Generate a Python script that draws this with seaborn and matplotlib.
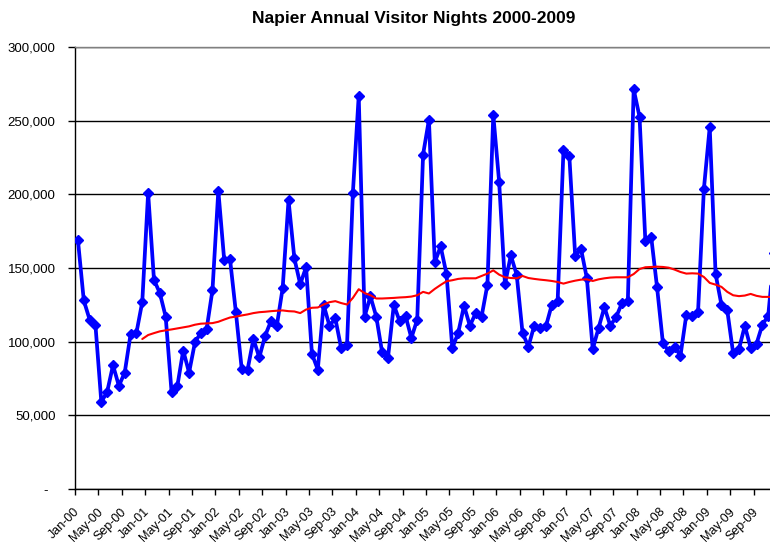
#coding = utf-8

'''
Napier Annual Visitor Nights 2000-2009 (月度数据 + 12个月移动平均)
'''

import seaborn as sns
import numpy as np
import pandas as pd
import matplotlib
matplotlib.use('Agg')
import matplotlib.pyplot as plt

#数据准备 (单位: 千)
nights_k = [
    169, 128, 115, 111, 59, 66, 84, 70, 79, 105, 106, 127,                          # 2000
    201, 142, 133, 117, 66, 70, 94, 79, 99.5, 106, 108.6, 135,                      # 2001
    202.5, 155.6, 156, 120, 81.4, 81, 101.8, 89.3, 104, 114, 110.8, 136.4,          # 2002
    196, 156.5, 139, 150.6, 91.8, 81, 125, 110.8, 115.8, 95.5, 97.7, 201,           # 2003
    267, 117, 130.7, 117, 92.7, 89, 125, 113.8, 117.6, 102.5, 115, 227,             # 2004
    250.6, 153.8, 164.7, 146, 95.7, 105.9, 124.4, 110.8, 119.4, 117, 138.7, 254,    # 2005
    208.6, 139, 158.6, 145.4, 106, 96.6, 110.8, 109.3, 110.4, 125, 127.4, 230,      # 2006
    226, 158.4, 162.9, 143, 95, 109.3, 123.5, 110.8, 116.7, 126.2, 127.4, 271.3,    # 2007
    252.7, 168, 171, 136.8, 99, 93.4, 96.4, 90.5, 118.3, 117.2, 119.9, 203.6,       # 2008
    245.7, 146, 125, 121.2, 92.3, 95, 110.8, 95.7, 98.6, 111.5, 117.6, 160,         # 2009
]

#移动平均线 (从 Dec-00 开始)
avg_start = 11
moving_avg_k = [
    101.8,                                                                          # 2000
    104.5, 105.8, 107, 107.7, 108.3, 109, 109.7, 110.4, 111.5, 112.2, 112.4, 112.6, # 2001
    113.5, 115, 116.4, 117, 117.8, 118.5, 119.4, 120, 120.3, 120.7, 121, 121.2,     # 2002
    120.7, 120.5, 119.4, 121.8, 123, 123.2, 125.2, 126.8, 127.5, 126.2, 125.2, 129.7,  # 2003
    135.6, 133, 131.5, 129.3, 129.3, 129.5, 129.7, 130, 130.2, 130.6, 131.5, 133.8, # 2004
    132.7, 135.8, 138.5, 141, 141.7, 142.6, 143, 143, 143, 144.6, 146.2, 148.4,     # 2005
    145.5, 143.7, 143.2, 143, 144.6, 143.2, 142.6, 142.1, 141.7, 141.2, 140.5, 139.4,  # 2006
    140.5, 141.4, 142.1, 142.3, 141.2, 142.3, 143, 143.5, 143.7, 143.7, 143.7, 145.9,  # 2007
    149.3, 150.5, 150.7, 150.9, 150.7, 150.2, 148.9, 147.3, 146.2, 146.4, 146.2, 143.9,  # 2008
    139.9, 138.7, 137.2, 133.8, 131.5, 130.9, 131.3, 132.4, 131.1, 130.4, 130.4, 130.0,  # 2009
]

x_labels = ['Jan-00', 'May-00', 'Sep-00', 'Jan-01', 'May-01', 'Sep-01',
            'Jan-02', 'May-02', 'Sep-02', 'Jan-03', 'May-03', 'Sep-03',
            'Jan-04', 'May-04', 'Sep-04', 'Jan-05', 'May-05', 'Sep-05',
            'Jan-06', 'May-06', 'Sep-06', 'Jan-07', 'May-07', 'Sep-07',
            'Jan-08', 'May-08', 'Sep-08', 'Jan-09', 'May-09', 'Sep-09']
y_ticks = [0, 50000, 100000, 150000, 200000, 250000, 300000]
y_labels = ['-  ', '50,000', '100,000', '150,000', '200,000', '250,000', '300,000']

df = pd.DataFrame({'month': np.arange(len(nights_k)),
                   'nights': np.array(nights_k) * 1000})
df_avg = pd.DataFrame({'month': np.arange(avg_start, avg_start + len(moving_avg_k)),
                       'avg': np.array(moving_avg_k) * 1000})

sns.set_style('white')
plt.rcParams['font.family'] = ['Liberation Sans', 'DejaVu Sans']

fig = plt.figure(figsize=(7.7, 5.52), dpi=100)
ax = fig.add_axes([75 / 770, 63 / 552, 702 / 770, 442 / 552])

sns.lineplot(data=df, x='month', y='nights', ax=ax, color='#0000FF', linewidth=2.7,
             marker='D', markersize=5.5, markeredgecolor='#0000FF', markeredgewidth=1, zorder=3)
sns.lineplot(data=df_avg, x='month', y='avg', ax=ax, color='#FF0000', linewidth=1.5, zorder=4)

ax.set_xlim(-0.5, 119.5)
ax.set_ylim(0, 300000)
ax.set_xlabel('')
ax.set_ylabel('')

#坐标轴
ax.set_yticks(y_ticks)
ax.set_yticklabels(y_labels)
ax.set_xticks(np.arange(-0.5, 120, 4))
ax.set_xticklabels([])
ax.set_xticks(np.arange(0, 120, 4), minor=True)
ax.set_xticklabels(x_labels, minor=True, rotation=45, ha='right', va='center',
                   rotation_mode='anchor')

ax.tick_params(axis='y', left=True, length=5, width=1, pad=9, labelsize=9.5,
               colors='black', direction='out')
ax.tick_params(axis='x', which='major', bottom=True, length=4, width=1,
               color='black', direction='out')
ax.tick_params(axis='x', which='minor', bottom=True, length=0, pad=15,
               labelsize=9, labelcolor='black')

ax.yaxis.grid(True, color='black', linewidth=1)
ax.set_axisbelow(True)
for side in ['left', 'bottom']:
    ax.spines[side].set_color('black')
    ax.spines[side].set_linewidth(1)
ax.spines['top'].set_color('#808080')
ax.spines['top'].set_linewidth(1)
ax.spines['right'].set_visible(False)

fig.text(414 / 770, 1 - 19 / 552, 'Napier Annual Visitor Nights 2000-2009',
         ha='center', va='center', fontsize=12.5, fontweight='bold', color='black')

plt.savefig('out.png', dpi=100)
